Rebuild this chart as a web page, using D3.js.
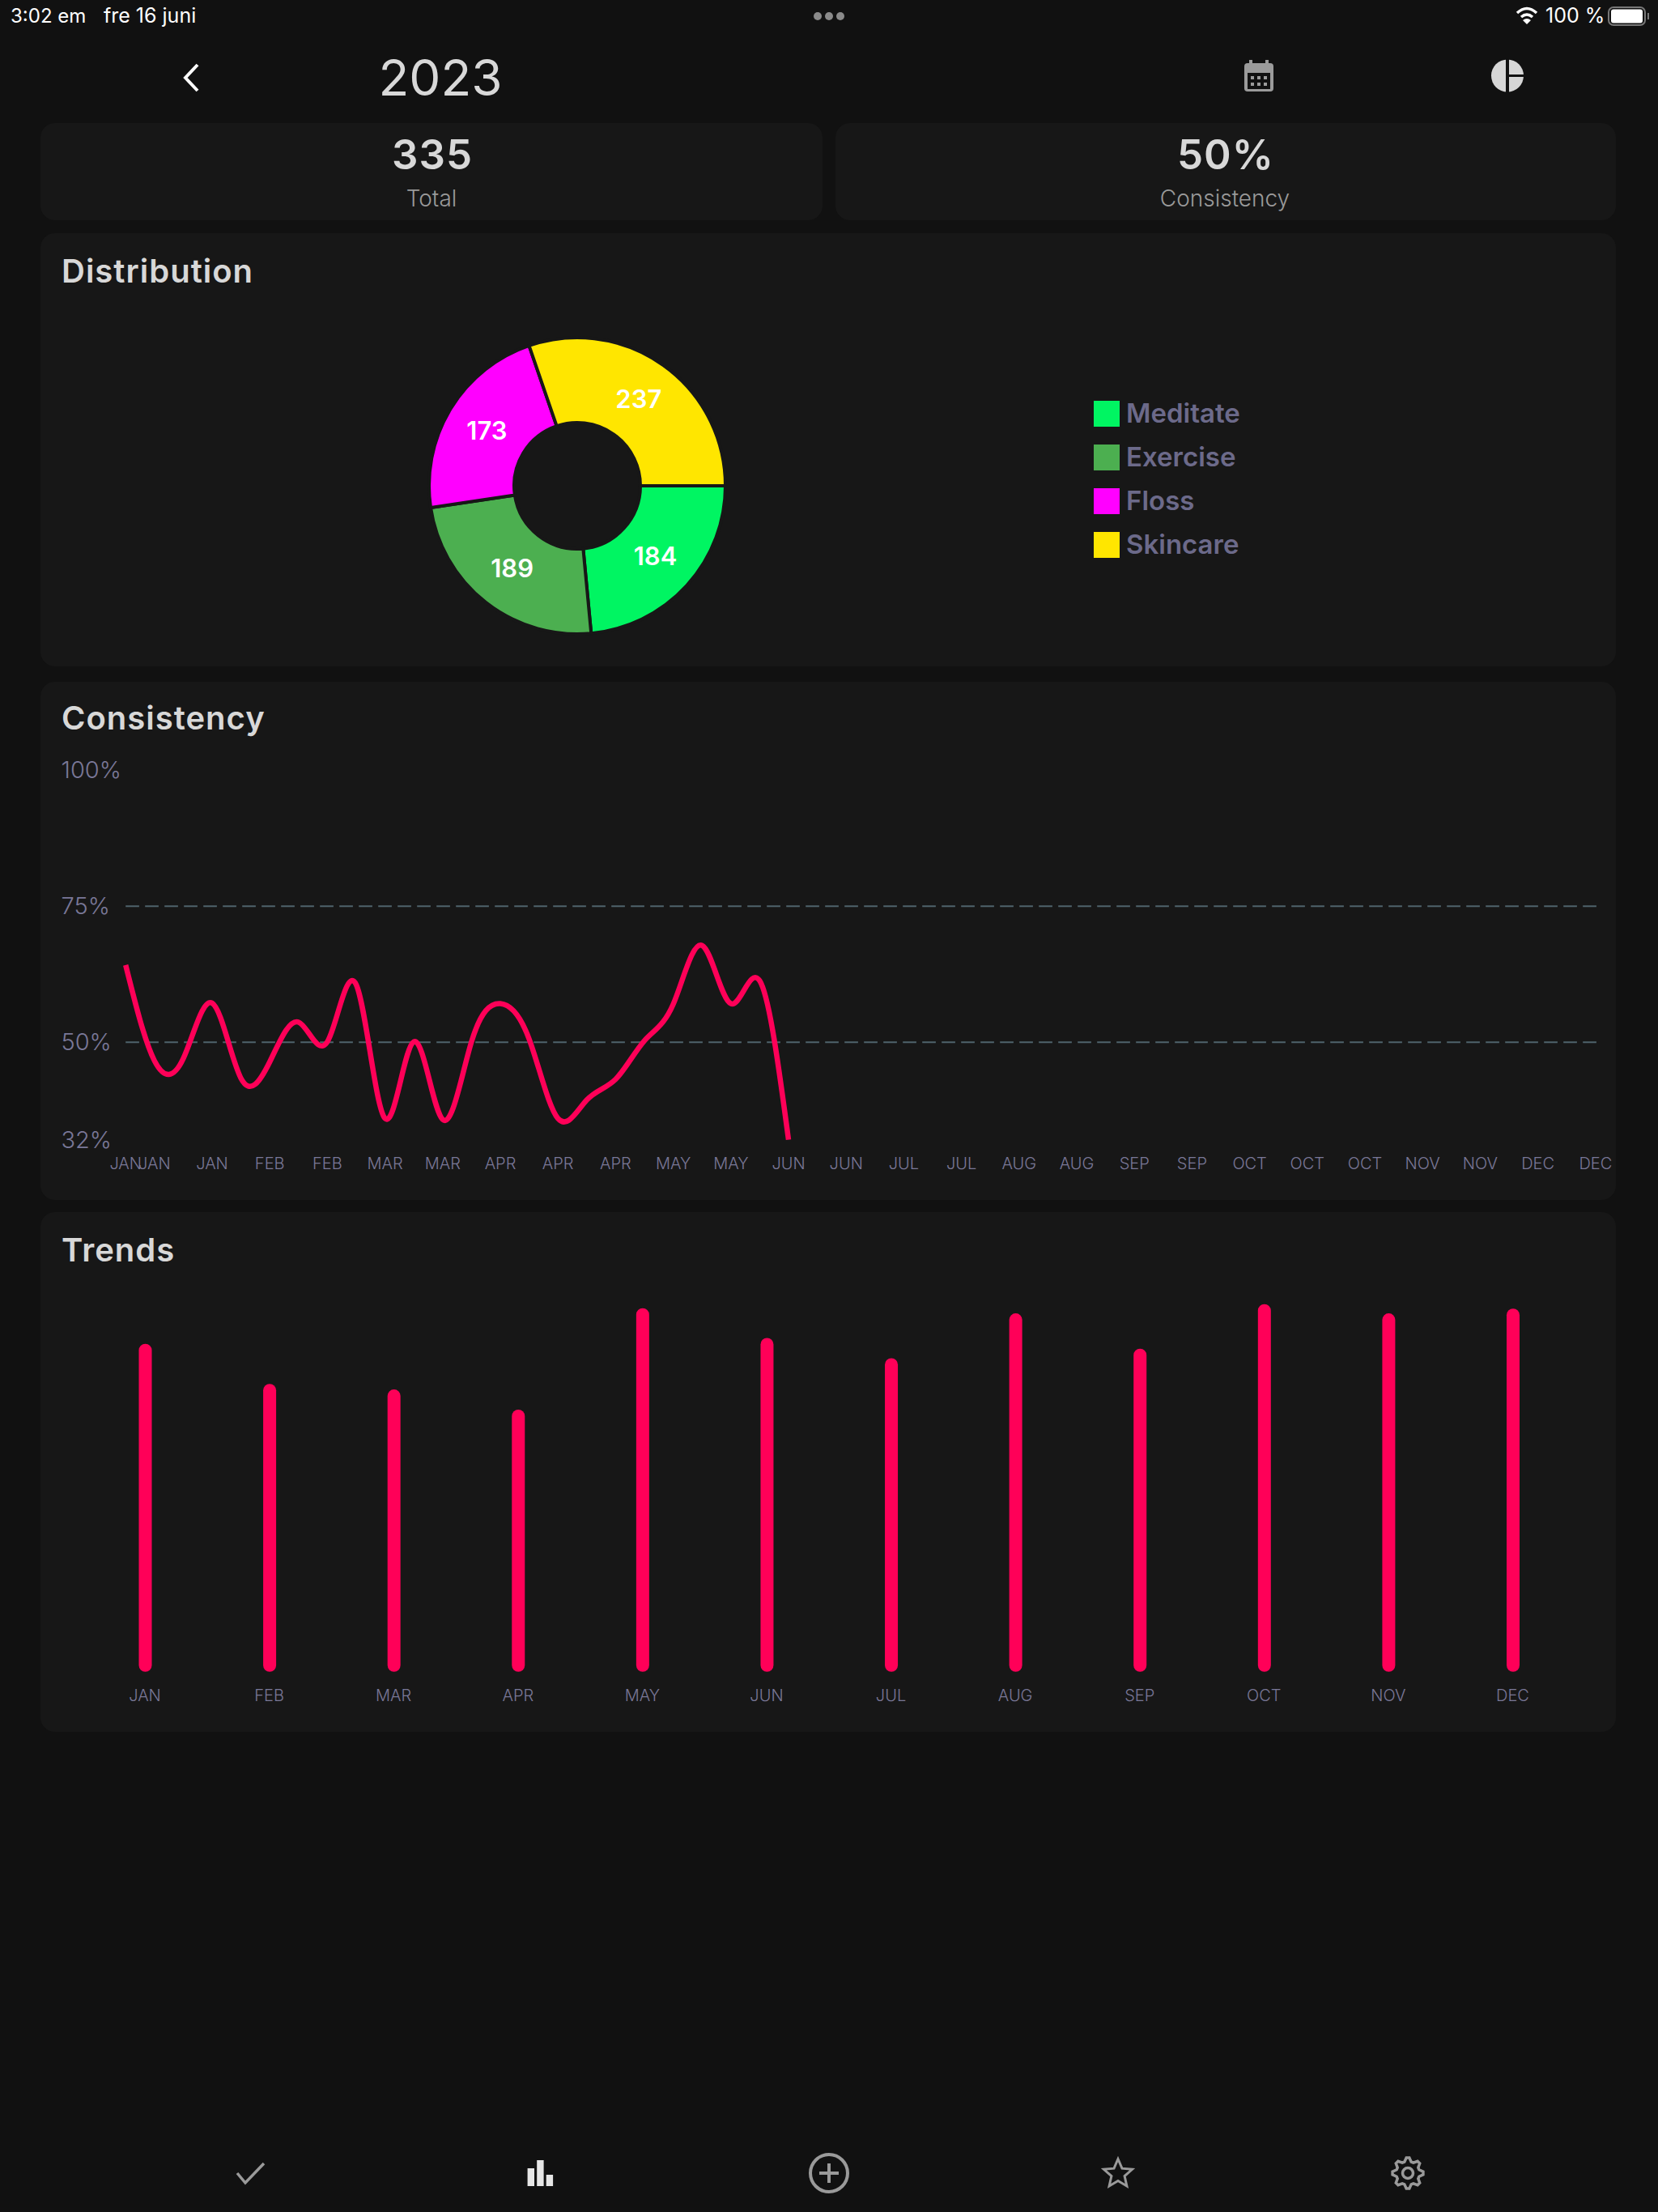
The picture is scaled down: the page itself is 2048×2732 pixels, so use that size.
<!DOCTYPE html>
<html>
<head>
<meta charset="utf-8">
<title>2023</title>
<script src="https://cdn.jsdelivr.net/npm/d3@7"></script>
<style>
  html, body { margin: 0; padding: 0; background: #111111; }
  svg { display: block; font-family: Inter, "Noto Sans", sans-serif; }
</style>
</head>
<body>
<svg width="2048" height="2732"></svg>
<script>
// --- Data ---
const habits = ["Meditate", "Exercise", "Floss", "Skincare"];
const habitCounts = [184, 189, 173, 237];
const habitColors = ["#00f562", "#4caf50", "#ff00ff", "#ffe600"];

const weeklyConsistency = [64.2, 46.6, 47, 57.2, 43.4, 46.4, 53.7, 50.1, 60.6, 36, 50.1, 35.8,
  50.1, 57.1, 50.6, 36, 39.4, 43.2, 50.3, 57, 67.8, 57.1, 61.3, 32.1];
const consistencyTicks = [100, 75, 50, 32];
const consistencyGrid = [75, 50];
const weekLabels = ["JAN", "JAN", "JAN", "FEB", "FEB", "MAR", "MAR", "APR", "APR", "APR", "MAY", "MAY", "JUN",
  "JUN", "JUL", "JUL", "AUG", "AUG", "SEP", "SEP", "OCT", "OCT", "OCT", "NOV", "NOV", "DEC", "DEC"];

const months = ["JAN", "FEB", "MAR", "APR", "MAY", "JUN", "JUL", "AUG", "SEP", "OCT", "NOV", "DEC"];
const monthlyTrend = [89.2, 78.3, 76.8, 71.3, 98.9, 90.8, 85.3, 97.5, 87.9, 100, 97.5, 98.8];

const summary = [["335", "Total", 534], ["50%", "Consistency", 1514]];

const bgColor = "#111111", cardColor = "#171717", textColor = "#d8d8d8", mutedColor = "#6c6a8a",
  axisColor = "#7a7898", pink = "#ff0058";

const svg = d3.select("svg");

// --- Cards ---
const cards = [[50, 152, 966, 120], [1032, 152, 964, 120], [50, 288, 1946, 535], [50, 842, 1946, 640], [50, 1497, 1946, 642]];
svg.append("g").selectAll("rect").data(cards).enter().append("rect")
  .attr("x", d => d[0]).attr("y", d => d[1]).attr("width", d => d[2]).attr("height", d => d[3])
  .attr("rx", 18).attr("fill", cardColor);

function addText(x, y, str, size, weight, fill, anchor) {
  return svg.append("text").attr("x", x).attr("y", y).text(str)
    .attr("font-size", size).attr("font-weight", weight).attr("fill", fill)
    .attr("text-anchor", anchor || "start");
}

// --- Status bar ---
addText(13, 28, "3:02 em", 24, 400, "#fff");
addText(128, 28, "fre 16 juni", 25, 400, "#fff");
addText(1909, 28, "100 %", 25, 400, "#fff");
svg.append("g").attr("fill", "#8a8a8a").selectAll("circle").data([-14, 0, 14]).enter().append("circle")
  .attr("cx", d => 1024 + d).attr("cy", 20).attr("r", 5);
const wifi = svg.append("g").attr("fill", "none").attr("stroke", "#fff").attr("stroke-width", 3.5);
wifi.append("path").attr("d", "M1874 16 Q1886 5 1898 16");
wifi.append("path").attr("d", "M1879 21 Q1886 15 1893 21");
svg.append("path").attr("d", "M1881 25 L1886 30 L1891 25 Q1886 21 1881 25Z").attr("fill", "#fff");
svg.append("rect").attr("x", 1987).attr("y", 9).attr("width", 45).attr("height", 22).attr("rx", 6)
  .attr("fill", "none").attr("stroke", "#777").attr("stroke-width", 2);
svg.append("rect").attr("x", 1990).attr("y", 11.5).attr("width", 39).attr("height", 17).attr("rx", 3).attr("fill", "#fff");
svg.append("rect").attr("x", 2035).attr("y", 16).attr("width", 2).attr("height", 8).attr("fill", "#777");

// --- Header ---
svg.append("path").attr("d", "M244 80 L229 96 L244 112").attr("fill", "none")
  .attr("stroke", "#fff").attr("stroke-width", 4);
addText(544, 118, "2023", 62, 400, textColor, "middle");

// calendar icon
const cal = svg.append("g").attr("transform", "translate(1555,94)");
cal.append("rect").attr("x", -18).attr("y", -16).attr("width", 36).attr("height", 35).attr("rx", 4).attr("fill", "#9b9b9b");
cal.append("rect").attr("x", -14).attr("y", -4).attr("width", 28).attr("height", 20).attr("fill", bgColor);
cal.selectAll("rect.post").data([-10, 10]).enter().append("rect").attr("class", "post")
  .attr("x", d => d - 2).attr("y", -20).attr("width", 4).attr("height", 8).attr("fill", "#9b9b9b");
d3.cross([-8, 0, 8], [2, 10]).forEach(p => {
  cal.append("rect").attr("x", p[0] - 2).attr("y", p[1] - 2).attr("width", 4).attr("height", 4).attr("fill", "#9b9b9b");
});

// pie icon
const pieIcon = svg.append("g").attr("transform", "translate(1862,93.5)");
pieIcon.append("circle").attr("r", 20).attr("fill", "#d6d6d6");
pieIcon.append("rect").attr("x", -2).attr("y", -21).attr("width", 4).attr("height", 42).attr("fill", bgColor);
pieIcon.append("rect").attr("x", 0).attr("y", -1.5).attr("width", 21).attr("height", 3).attr("fill", bgColor);

// --- Summary cards ---
summary.forEach(d => {
  addText(d[2], 209, d[0], 51, 600, textColor, "middle").attr("letter-spacing", 1);
  addText(d[2] - 1, 255, d[1], 28, 300, "#9a9a9a", "middle");
});

// --- Distribution ---
function addTitle(y, str) {
  addText(76, y, str, 40, 600, textColor).attr("letter-spacing", 1);
}
addTitle(349, "Distribution");
const pie = d3.pie().sort(null).startAngle(Math.PI / 2).endAngle(Math.PI * 2.5);
const arc = d3.arc().innerRadius(78).outerRadius(183);
const pieG = svg.append("g").attr("transform", "translate(713,600)");
const slices = pieG.selectAll("g").data(pie(habitCounts)).enter().append("g");
slices.append("path").attr("d", arc).attr("fill", (d, i) => habitColors[i])
  .attr("stroke", cardColor).attr("stroke-width", 4);
slices.append("text").attr("transform", d => "translate(" + arc.centroid(d) + ")")
  .attr("text-anchor", "middle").attr("dy", "0.33em")
  .attr("font-size", 31).attr("font-weight", 600).attr("fill", "#fff").text(d => d.data);

const legendY = d3.scaleBand().domain(habits).range([495, 711]);
const legend = svg.append("g").selectAll("g").data(habits).enter().append("g")
  .attr("transform", d => "translate(1351," + legendY(d) + ")");
legend.append("rect").attr("width", 32).attr("height", 32).attr("fill", (d, i) => habitColors[i]);
legend.append("text").attr("x", 40).attr("y", 27).text(d => d)
  .attr("font-size", 33).attr("font-weight", 600).attr("fill", mutedColor);

// --- Consistency ---
addTitle(901, "Consistency");
const xWeek = d3.scaleLinear().domain([0, 25.5]).range([155.2, 1970.8]);
const yPct = d3.scaleLinear().domain([50, 75]).range([1287.3, 1119.3]);

svg.append("g").selectAll("line").data(consistencyGrid).enter().append("line")
  .attr("x1", xWeek(0)).attr("x2", xWeek(25.5) + 2)
  .attr("y1", d => yPct(d)).attr("y2", d => yPct(d))
  .attr("stroke", "#4f636b").attr("stroke-width", 2).attr("stroke-dasharray", "16.7 7.3");

const yAxis = svg.append("g").call(d3.axisLeft(yPct).tickValues(consistencyTicks).tickSize(0).tickFormat(d => d + "%"));
yAxis.select(".domain").remove();
yAxis.selectAll("text").attr("x", 75.5).attr("text-anchor", "start")
  .attr("font-family", "Inter").attr("font-size", 29).attr("font-weight", 300).attr("fill", axisColor);

// first label sits on the first point, the rest are on odd half weeks
const weekTickPos = weekLabels.map((d, i) => i === 0 ? 0 : i - 0.5);
const xAxis = svg.append("g").attr("transform", "translate(-0.5,1444)")
  .call(d3.axisBottom(xWeek).tickValues(weekTickPos).tickSize(0).tickPadding(0)
    .tickFormat(d => weekLabels[weekTickPos.indexOf(d)]));
xAxis.select(".domain").remove();
xAxis.selectAll("text").attr("y", 0).attr("dy", 0)
  .attr("font-family", "Inter").attr("font-size", 20).attr("font-weight", 300).attr("fill", axisColor);

const line = d3.line().x((d, i) => xWeek(i * 0.5)).y(d => yPct(d)).curve(d3.curveNatural);
svg.append("path").datum(weeklyConsistency).attr("d", line)
  .attr("fill", "none").attr("stroke", pink).attr("stroke-width", 6.5);

// --- Trends ---
addTitle(1558, "Trends");
const xMonth = d3.scalePoint().domain(months).range([179.5, 1869]);
const yTrend = d3.scaleLinear().domain([0, 100]).range([2064.8, 1610.7]);
const barW = 16;
svg.append("g").selectAll("rect").data(monthlyTrend).enter().append("rect")
  .attr("x", (d, i) => xMonth(months[i]) - barW / 2).attr("y", d => yTrend(d))
  .attr("width", barW).attr("height", d => yTrend(0) - yTrend(d))
  .attr("rx", barW / 2).attr("fill", pink);
const monthAxis = svg.append("g").attr("transform", "translate(-1,2101)")
  .call(d3.axisBottom(xMonth).tickSize(0).tickPadding(0));
monthAxis.select(".domain").remove();
monthAxis.selectAll("text").attr("y", 0).attr("dy", 0)
  .attr("font-family", "Inter").attr("font-size", 20).attr("font-weight", 300).attr("fill", axisColor);

// --- Bottom nav ---
const navGrey = "#9a9a9a";
svg.append("path").attr("d", "M293 2684 L303 2696 L326 2672").attr("fill", "none").attr("stroke", navGrey).attr("stroke-width", 3.5);
svg.append("g").attr("fill", "#e6e6e6").selectAll("rect").data([[651.6, 2678, 22], [663.2, 2668, 32], [674.7, 2686, 14]]).enter().append("rect")
  .attr("x", d => d[0]).attr("y", d => d[1]).attr("width", 8.4).attr("height", d => d[2]);
const plus = svg.append("g").attr("transform", "translate(1024,2684)").attr("fill", "none").attr("stroke", navGrey).attr("stroke-width", 4);
plus.append("circle").attr("r", 23);
plus.append("path").attr("d", "M-12 0H12M0 -12V12");
const starPts = d3.range(10).map(i => {
  const r = i % 2 ? 8.5 : 18.5, a = i * Math.PI / 5;
  return [r * Math.sin(a), -r * Math.cos(a)];
});
svg.append("path").attr("transform", "translate(1381,2685)").attr("d", d3.line()(starPts) + "Z")
  .attr("fill", "none").attr("stroke", navGrey).attr("stroke-width", 3);
const gearPts = d3.range(32).map(i => {
  const r = [19, 19, 14.5, 14.5][i % 4], a = (i - 0.5) * Math.PI / 16;
  return [r * Math.sin(a), -r * Math.cos(a)];
});
const gear = svg.append("g").attr("transform", "translate(1739,2684)").attr("fill", "none").attr("stroke", navGrey).attr("stroke-width", 3.5);
gear.append("path").attr("d", d3.line()(gearPts) + "Z");
gear.append("circle").attr("r", 6.5);
</script>
</body>
</html>
